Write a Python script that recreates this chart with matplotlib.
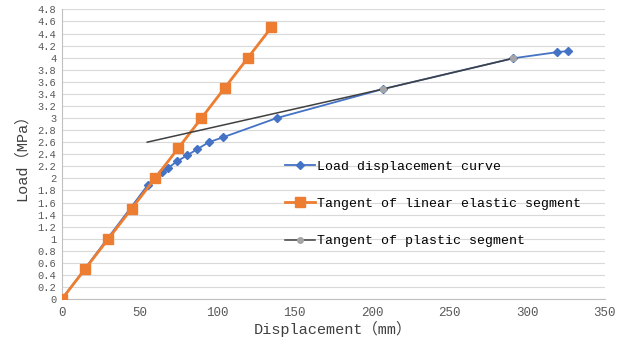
import numpy as np
import matplotlib.pyplot as plt

plt.rcParams['font.family'] = ['Liberation Mono', 'Noto Sans CJK SC', 'DejaVu Sans']

# load displacement curve
load_x = [0, 55.4, 60, 64.5, 68.3, 74.1, 80.6, 87, 94.8, 103.8, 138.6, 207, 291, 319, 326]
load_y = [0, 1.89, 2.0, 2.1, 2.17, 2.28, 2.38, 2.48, 2.6, 2.68, 3.0, 3.48, 3.99, 4.09, 4.11]

# tangent of linear elastic segment
elastic_x = [0, 15, 30, 45, 60, 75, 90, 105, 120, 135]
elastic_y = [0, 0.5, 1.0, 1.5, 2.0, 2.5, 3.0, 3.5, 4.0, 4.5]

# tangent of plastic segment
plastic_x = [55, 207, 291]
plastic_y = [2.6, 3.48, 3.99]

yticks = np.round(np.arange(0, 4.81, 0.2), 1)
ytick_labels = ['0' if v == 0 else f'{v:g}' for v in yticks]

fig = plt.figure(figsize=(6.19, 3.47), dpi=100)
ax = fig.add_axes([0.1, 0.138, 0.877, 0.835])

ax.plot(load_x, load_y, color='#4472C4', marker='D', markersize=4, lw=1.3,
        label='Load displacement curve', zorder=3)
ax.plot(elastic_x, elastic_y, color='#ED7D31', marker='s', markersize=7, lw=2,
        label='Tangent of linear elastic segment', zorder=4)
ax.plot(plastic_x, plastic_y, color='#404040', lw=1.1, marker='o', markersize=4,
        markerfacecolor='#A5A5A5', markeredgecolor='#A5A5A5', markevery=[1, 2],
        label='Tangent of plastic segment', zorder=5)

ax.set_xlim(0, 350)
ax.set_ylim(0, 4.8)
ax.set_xticks(range(0, 351, 50))
ax.set_yticks(yticks)
ax.set_yticklabels(ytick_labels, fontsize=7.5, color='#595959')
ax.tick_params(axis='x', labelsize=9, colors='#595959', length=0, pad=6)
ax.tick_params(axis='y', length=0, pad=4)

ax.grid(axis='y', color='#D9D9D9', lw=0.8)
ax.set_axisbelow(True)
for s in ['top', 'right']:
    ax.spines[s].set_visible(False)
ax.spines['left'].set_color('#BFBFBF')
ax.spines['bottom'].set_color('#BFBFBF')

ax.set_xlabel('Displacement（mm）', fontsize=11, color='#404040', labelpad=1)
ax.set_ylabel('Load（MPa）', fontsize=11, color='#404040', labelpad=6)

ax.legend(loc='upper left', bbox_to_anchor=(0.39, 0.52), frameon=False,
          fontsize=9.5, labelspacing=1.9, handlelength=2.2, handletextpad=0.2)

plt.savefig('out.png', dpi=100)
